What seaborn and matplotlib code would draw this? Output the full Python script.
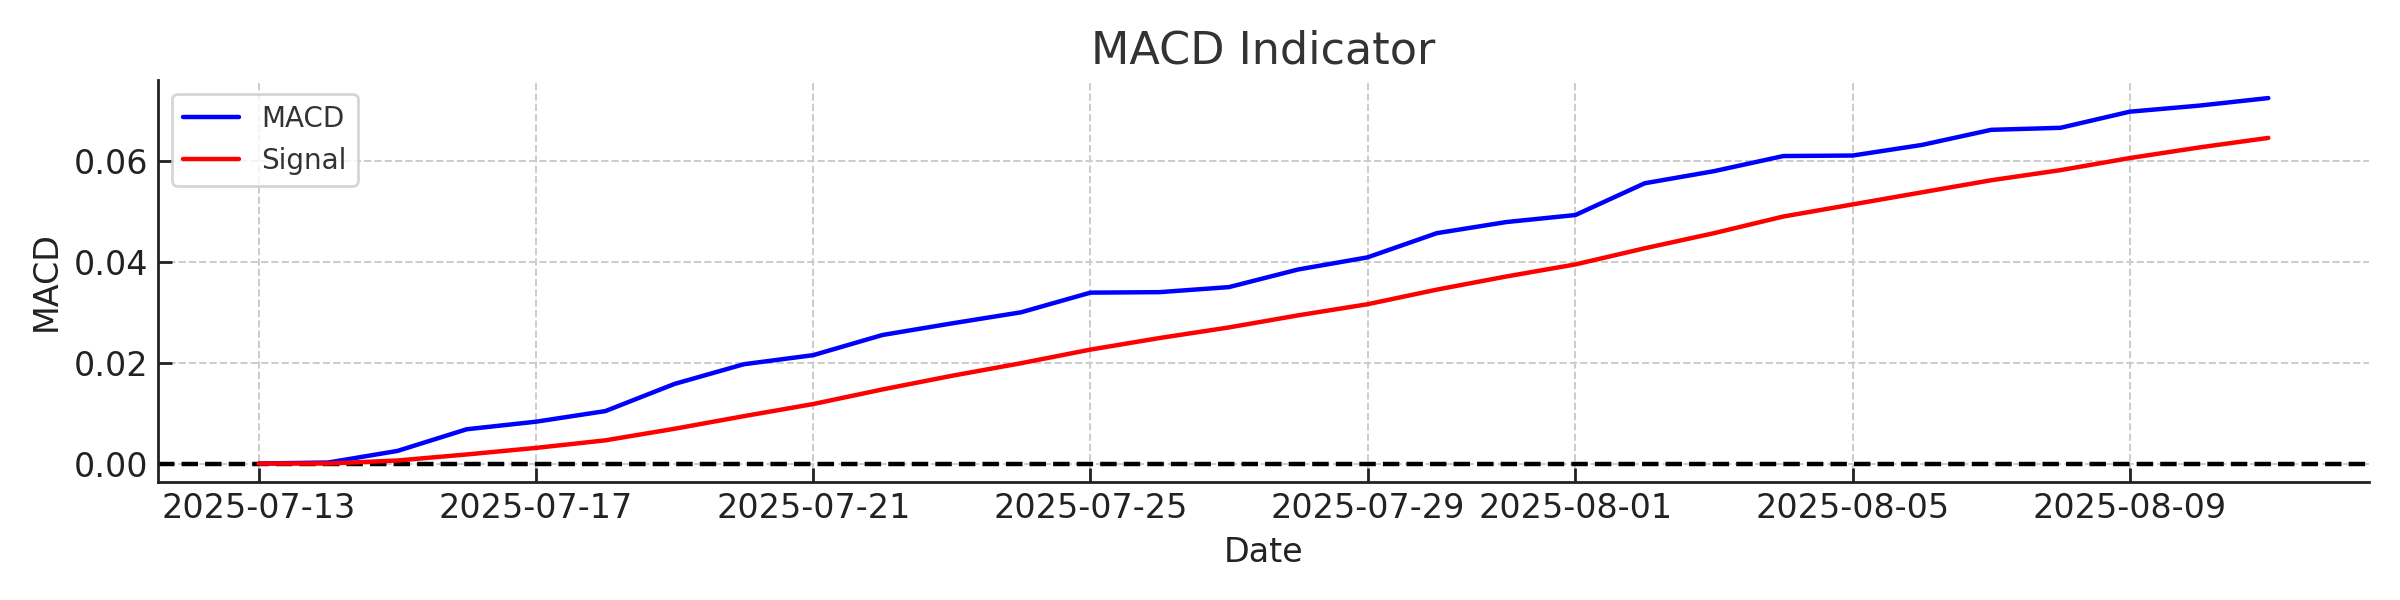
import numpy as np
import pandas as pd
import matplotlib
matplotlib.use("Agg")
import matplotlib.pyplot as plt
import matplotlib.dates as mdates
import seaborn as sns

dates = pd.date_range("2025-07-13", "2025-08-11", freq="D")
macd = [0.0000, 0.0002, 0.0025, 0.0068, 0.0083, 0.0104, 0.0158, 0.0197, 0.0215, 0.0255,
        0.0278, 0.0300, 0.0339, 0.0340, 0.0350, 0.0385, 0.0409, 0.0457, 0.0479, 0.0493,
        0.0556, 0.0580, 0.0610, 0.0611, 0.0632, 0.0662, 0.0666, 0.0698, 0.0710, 0.0725]
signal = [0.0000, 0.0000, 0.0006, 0.0018, 0.0031, 0.0046, 0.0069, 0.0094, 0.0118, 0.0147,
          0.0174, 0.0199, 0.0226, 0.0249, 0.0270, 0.0294, 0.0316, 0.0345, 0.0371, 0.0395,
          0.0427, 0.0457, 0.0490, 0.0514, 0.0538, 0.0562, 0.0582, 0.0606, 0.0627, 0.0646]
tick_days = [1, 5, 9, 13, 17, 21, 25, 29]

df = pd.DataFrame({"Date": dates, "MACD": macd, "Signal": signal})

sns.set_style("ticks")
plt.rcParams["font.family"] = ["DejaVu Sans"]

fig, ax = plt.subplots(figsize=(12, 3), dpi=200)
fig.subplots_adjust(left=0.066, right=0.987, top=0.867, bottom=0.197)

sns.lineplot(data=df, x="Date", y="MACD", ax=ax, color="blue", linewidth=1.6, label="MACD")
sns.lineplot(data=df, x="Date", y="Signal", ax=ax, color="red", linewidth=1.6, label="Signal")
ax.axhline(0, color="black", linestyle="--", linewidth=1.6, zorder=1)

ax.xaxis.set_major_locator(mdates.DayLocator(bymonthday=tick_days))
ax.xaxis.set_major_formatter(mdates.DateFormatter("%Y-%m-%d"))

ax.grid(True, linestyle="--", color="#cccccc", linewidth=0.7)
ax.set_axisbelow(True)
for s in ["top", "right"]:
    ax.spines[s].set_visible(False)
for s in ["left", "bottom"]:
    ax.spines[s].set_color("#222222")
    ax.spines[s].set_linewidth(1.0)
ax.tick_params(direction="in", length=5, width=1, labelsize=12, colors="#222222")

ax.set_title("MACD Indicator", fontsize=16, color="#333333")
ax.set_xlabel("Date", fontsize=12, color="#222222")
ax.set_ylabel("MACD", fontsize=12, color="#222222")
leg = ax.legend(loc="upper left", fontsize=10, frameon=True, fancybox=True)
for t in leg.get_texts():
    t.set_color("#333333")

fig.savefig("out.png", dpi=200)
